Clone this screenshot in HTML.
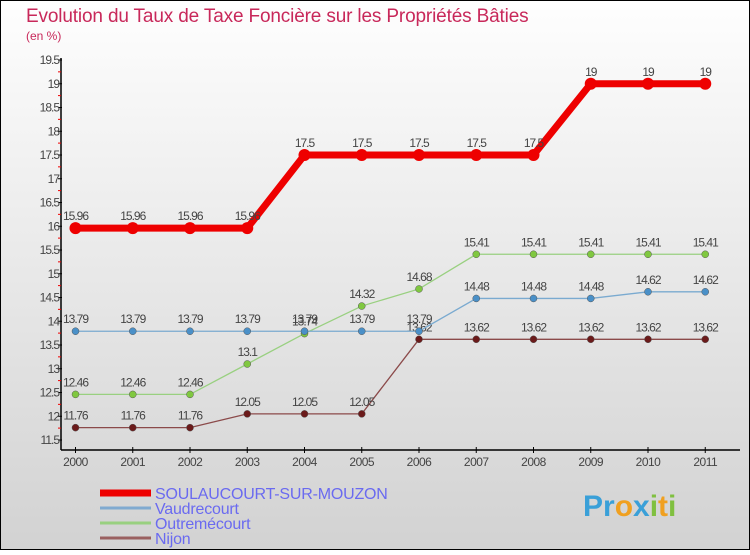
<!DOCTYPE html>
<html><head><meta charset="utf-8"><style>
html,body{margin:0;padding:0;}
body{width:750px;height:550px;overflow:hidden;font-family:"Liberation Sans",sans-serif;}
svg text{font-family:"Liberation Sans",sans-serif;}
</style></head><body>
<svg id="chart" width="750" height="550" xmlns="http://www.w3.org/2000/svg">
<defs><linearGradient id="bg" x1="0" y1="0" x2="0" y2="1"><stop offset="0" stop-color="#fefefe"/><stop offset="1" stop-color="#d2d2d2"/></linearGradient></defs>
<rect x="0.5" y="0.5" width="749" height="549" fill="url(#bg)" stroke="#000" stroke-width="1"/>
<text x="26" y="22" font-size="19" fill="#c8285a" letter-spacing="-0.15">Evolution du Taux de Taxe Foncière sur les Propriétés Bâties</text>
<text x="26" y="40" font-size="12" fill="#c8285a">(en %)</text>
<g id="axes"></g><g id="series"></g><g id="legend"></g>
<text x="583" y="516" font-size="30" font-weight="bold" fill="#3aa0d8">Pr<tspan fill="#f0a020">o</tspan><tspan fill="#3aa0d8">x</tspan><tspan fill="#80c040">i</tspan><tspan fill="#f0a020">t</tspan><tspan fill="#80c040">i</tspan></text>
</svg>
<script>
const years=["2000","2001","2002","2003","2004","2005","2006","2007","2008","2009","2010","2011"];
const yTicks=[11.5,12,12.5,13,13.5,14,14.5,15,15.5,16,16.5,17,17.5,18,18.5,19,19.5];
const soulaucourt=[15.96,15.96,15.96,15.96,17.5,17.5,17.5,17.5,17.5,19,19,19];
const vaudrecourt=[13.79,13.79,13.79,13.79,13.79,13.79,13.79,14.48,14.48,14.48,14.62,14.62];
const outremecourt=[12.46,12.46,12.46,13.1,13.74,14.32,14.68,15.41,15.41,15.41,15.41,15.41];
const nijon=[11.76,11.76,11.76,12.05,12.05,12.05,13.62,13.62,13.62,13.62,13.62,13.62];
const seriesNames=["SOULAUCOURT-SUR-MOUZON","Vaudrecourt","Outremécourt","Nijon"];
const NS="http://www.w3.org/2000/svg";
function X(i){return 75.5+i*57.25;}
function Y(v){return 440-(v-11.5)/8*380;}
function mk(tag,attrs,parent,txt){const e=document.createElementNS(NS,tag);for(const k in attrs)e.setAttribute(k,attrs[k]);if(txt!==undefined)e.textContent=txt;parent.appendChild(e);return e;}
const axes=document.getElementById('axes');
let e=mk('line',{x1:61,y1:58,x2:61,y2:450,stroke:'#000','stroke-width':1.5},axes);

e=mk('line',{x1:61,y1:450,x2:740,y2:450,stroke:'#000','stroke-width':1.5},axes);

yTicks.forEach((t,i)=>{const y=Y(t);
 mk('line',{x1:58,y1:y,x2:62,y2:y,stroke:'#000'},axes);
 if(i<yTicks.length-1)mk('line',{x1:58,y1:y-11.9,x2:61,y2:y-11.9,stroke:'#e00'},axes);
 e=mk('text',{x:59,y:y+4,'font-size':12,'text-anchor':'end',fill:'#444','letter-spacing':'-1'},axes,String(t));
 
});
years.forEach((yr,i)=>{const x=X(i);
 mk('line',{x1:x,y1:447,x2:x,y2:453,stroke:'#000'},axes);
 e=mk('text',{x:x,y:466,'font-size':12,'text-anchor':'middle',fill:'#444','letter-spacing':'-0.5'},axes,yr);
 
});
const sg=document.getElementById('series');
function draw(data,line,dot,w,r,name){
 const g=mk('g',{},sg);
 
 mk('polyline',{points:data.map((v,i)=>X(i)+','+Y(v)).join(' '),fill:'none',stroke:line,'stroke-width':w},g);
 data.forEach((v,i)=>{
  const c=mk('circle',{cx:X(i),cy:Y(v),r:r,fill:dot,stroke:w>3?'none':'#555','stroke-width':0.5},g);
  
  const t=mk('text',{x:X(i),y:Y(v)-8,'font-size':12,'text-anchor':'middle',fill:'#444','letter-spacing':'-1'},g,String(v));
  
 });
}
draw(nijon,'#8b4a4a','#6b1a1a',1.3,3.5,'series-nijon');
draw(outremecourt,'#99d080','#80c840',1.3,3.5,'series-outremecourt');
draw(vaudrecourt,'#7aaad0','#4a90c8',1.3,3.5,'series-vaudrecourt');
draw(soulaucourt,'#ee0000','#ee0000',7,6,'series-soulaucourt');
const lg=document.getElementById('legend');
const lcol=['#ee0000','#80aad0','#99d080','#9a6060'],lw=[7,3,3,3];
seriesNames.forEach((n,i)=>{const y=493+i*15;
 const g=mk('g',{},lg);
 
 mk('line',{x1:100,y1:y,x2:151,y2:y,stroke:lcol[i],'stroke-width':lw[i]},g);
 mk('text',{x:155,y:y+6,'font-size':16,fill:'#6a6af0','letter-spacing':'-0.2'},g,n);
});
</script>
</body></html>
